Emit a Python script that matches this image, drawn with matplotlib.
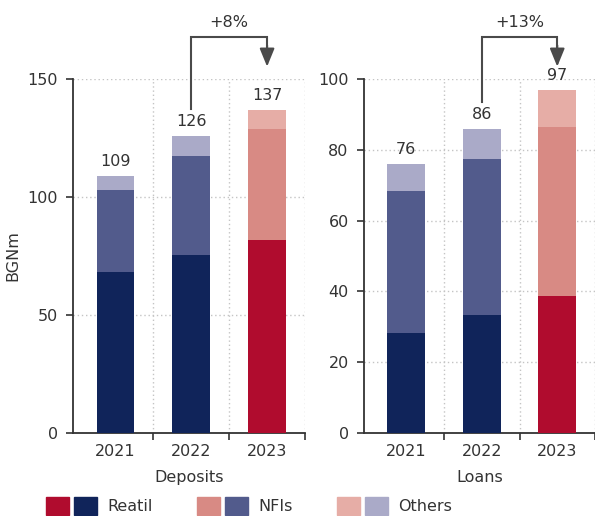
import matplotlib
matplotlib.use("Agg")
import numpy as np
import matplotlib.pyplot as plt
from matplotlib.patches import Patch
from matplotlib.legend_handler import HandlerTuple

plt.rcParams['font.family'] = ['DejaVu Sans']
plt.rcParams['font.size'] = 11.5
TXT = "#333333"

years = ["2021", "2022", "2023"]

# Deposits, BGN million
dep_retail = [68.2, 75.4, 81.8]
dep_nfis = [34.8, 42.1, 47.0]
dep_others = [6.0, 8.5, 8.2]
dep_totals = [109, 126, 137]
dep_growth = "+8%"

# Loans, BGN million
loan_retail = [28.2, 33.3, 38.6]
loan_nfis = [40.1, 44.0, 47.7]
loan_others = [7.7, 8.7, 10.7]
loan_totals = [76, 86, 97]
loan_growth = "+13%"

# colours: old years in blue shades, 2023 in red shades
blue = {"retail": "#10245a", "nfis": "#525b8c", "others": "#aaaac8"}
red = {"retail": "#b00c2e", "nfis": "#d88a84", "others": "#e6ada6"}

fig = plt.figure(figsize=(5.95, 5.16), dpi=100)
ax1 = fig.add_axes([73 / 595, 83 / 516, 232 / 595, 354 / 516])
ax2 = fig.add_axes([364 / 595, 83 / 516, 231 / 595, 354 / 516])


def draw_panel(ax, retail, nfis, others, totals, growth, ymax, yticks, xlabel):
    x = np.arange(len(years))
    cols = [blue, blue, red]
    r = np.array(retail)
    n = np.array(nfis)
    o = np.array(others)
    for i in x:
        c = cols[i]
        ax.bar(i, r[i], width=0.5, color=c["retail"], zorder=3)
        ax.bar(i, n[i], width=0.5, bottom=r[i], color=c["nfis"], zorder=3)
        ax.bar(i, o[i], width=0.5, bottom=r[i] + n[i], color=c["others"], zorder=3)
        ax.annotate(str(totals[i]), (i, r[i] + n[i] + o[i]), xytext=(0, 5),
                    textcoords="offset points", ha="center", va="bottom", color=TXT)

    ax.set_xlim(-0.56, 2.5)
    ax.set_ylim(0, ymax)
    ax.set_yticks(yticks)
    ax.set_xticks(x)
    ax.set_xticklabels(years)
    ax.set_xticks([0.5, 1.5, 2.5], minor=True)
    ax.tick_params(axis="x", which="major", length=0, pad=8, colors=TXT)
    ax.tick_params(axis="x", which="minor", length=5, width=1.2, color="#333333")
    ax.tick_params(axis="y", length=5, width=1.2, pad=6, colors=TXT)
    ax.grid(axis="y", linestyle=(0, (1, 2)), color="#c4c4c4", lw=1, zorder=0)
    ax.grid(axis="x", which="minor", linestyle=(0, (1, 2)), color="#c4c4c4", lw=1, zorder=0)
    for s in ["top", "right"]:
        ax.spines[s].set_visible(False)
    for s in ["left", "bottom"]:
        ax.spines[s].set_linewidth(1.3)
        ax.spines[s].set_color("#333333")
    ax.set_xlabel(xlabel, color=TXT, labelpad=8)

    # growth bracket from 2022 to 2023
    y0 = totals[1] + 0.075 * ymax
    y1 = 1.12 * ymax
    tip = 1.035 * ymax
    ax.plot([1, 1, 2, 2], [y0, y1, y1, tip + 0.05 * ymax], color="#4a4a4a",
            lw=1.5, clip_on=False, solid_joinstyle="miter")
    ax.annotate("", xy=(2, tip), xytext=(2, tip + 0.06 * ymax),
                arrowprops=dict(arrowstyle="-|>,head_length=1.1,head_width=0.45",
                                color="#4a4a4a", lw=1.5, shrinkA=0, shrinkB=0,
                                mutation_scale=10),
                annotation_clip=False)
    ax.text(1.5, 1.16 * ymax, growth, ha="center", va="center", color=TXT)


draw_panel(ax1, dep_retail, dep_nfis, dep_others, dep_totals, dep_growth,
           150, [0, 50, 100, 150], "Deposits")
draw_panel(ax2, loan_retail, loan_nfis, loan_others, loan_totals, loan_growth,
           100, [0, 20, 40, 60, 80, 100], "Loans")
ax1.set_ylabel("BGNm", color=TXT, labelpad=5)

handles = [(Patch(color=red[k]), Patch(color=blue[k])) for k in ["retail", "nfis", "others"]]
fig.legend(handles, ["Reatil", "NFIs", "Others"], ncol=3,
           handler_map={tuple: HandlerTuple(ndivide=None, pad=0.31)},
           loc="center left", bbox_to_anchor=(46 / 595, 10 / 516),
           frameon=False, borderpad=0, borderaxespad=0,
           handlelength=3.19, handleheight=1.38, handletextpad=0.63,
           columnspacing=2.8, labelcolor=TXT)

fig.savefig("out.png", dpi=100)
